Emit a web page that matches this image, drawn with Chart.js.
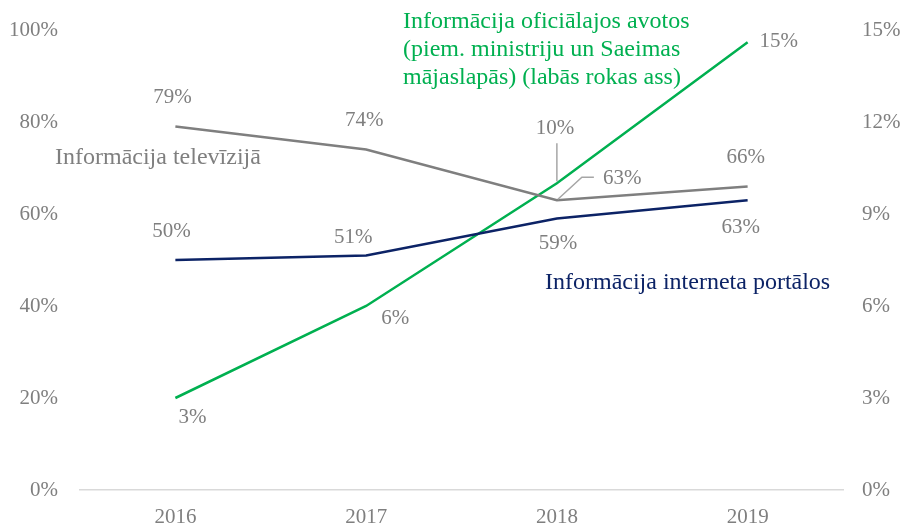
<!DOCTYPE html>
<html>
<head>
<meta charset="utf-8">
<script src="https://cdn.jsdelivr.net/npm/chart.js@4"></script>
<style>
  body { margin: 0; background: #fff; }
  #wrap { width: 900px; height: 524px; }
</style>
</head>
<body>
<div id="wrap"><canvas id="chart" width="900" height="524"></canvas></div>
<script>
const years = ["2016", "2017", "2018", "2019"];
const tvValues = [79, 74, 63, 66];
const internetValues = [50, 51, 59, 63];
const officialValues = [3, 6, 10, 14.6];
const leftTicks = [0, 20, 40, 60, 80, 100];
const rightTicks = [0, 3, 6, 9, 12, 15];

const FONT = "'Liberation Serif', 'Times New Roman', serif";
const GREY = "#7f7f7f";
const NAVY = "#0c2366";
const GREEN = "#00b050";

// offsets of value labels from their points (dx, dy)
const labelOffsets = {
  0: [[-3, -29], [-2, -29], null, [-2, -29]],
  1: [[-4, -29], [-13, -18], [1, 25], [-7, 27]],
  2: [[17, 19], [29, 12], [-2, -55], [31, -1]]
};

const valueLabels = {
  id: "valueLabels",
  afterDatasetsDraw(chart) {
    const ctx = chart.ctx;
    ctx.save();
    ctx.font = "21px " + FONT;
    ctx.textAlign = "center";
    ctx.textBaseline = "middle";
    ctx.fillStyle = GREY;
    chart.data.datasets.forEach((ds, di) => {
      const meta = chart.getDatasetMeta(di);
      meta.data.forEach((pt, i) => {
        const off = labelOffsets[di][i];
        if (!off) return;
        ctx.fillText(Math.round(ds.data[i]) + "%", pt.x + off[0], pt.y + off[1]);
      });
    });
    // 2018 TV label with leader line
    const tvPt = chart.getDatasetMeta(0).data[2];
    ctx.strokeStyle = "#a6a6a6";
    ctx.lineWidth = 1.5;
    ctx.beginPath();
    ctx.moveTo(tvPt.x + 1, tvPt.y - 1);
    ctx.lineTo(tvPt.x + 25, tvPt.y - 23);
    ctx.lineTo(tvPt.x + 37, tvPt.y - 23);
    ctx.stroke();
    ctx.textAlign = "left";
    ctx.fillText(Math.round(chart.data.datasets[0].data[2]) + "%", tvPt.x + 46, tvPt.y - 22);
    // 2018 official leader
    const ofPt = chart.getDatasetMeta(2).data[2];
    ctx.beginPath();
    ctx.moveTo(ofPt.x, ofPt.y - 40);
    ctx.lineTo(ofPt.x, ofPt.y - 2);
    ctx.stroke();

    // series names
    ctx.textAlign = "left";
    ctx.font = "24px " + FONT;
    ctx.fillStyle = GREY;
    ctx.fillText("Informācija televīzijā", 55, 158);
    ctx.fillStyle = NAVY;
    ctx.fillText("Informācija interneta portālos", 545, 283);
    ctx.fillStyle = GREEN;
    ctx.fillText("Informācija oficiālajos avotos", 403, 22);
    ctx.fillText("(piem. ministriju un Saeimas", 403, 50);
    ctx.fillText("mājaslapās) (labās rokas ass)", 403, 78);
    ctx.restore();
  }
};

const fitY = w => s => { s.width = w; s.paddingTop = 0; s.paddingBottom = 0; };

new Chart(document.getElementById("chart"), {
  type: "line",
  data: {
    labels: years,
    datasets: [
      { data: tvValues, borderColor: GREY, yAxisID: "y" },
      { data: internetValues, borderColor: NAVY, yAxisID: "y" },
      { data: officialValues, borderColor: GREEN, yAxisID: "y2" }
    ]
  },
  options: {
    responsive: false,
    animation: false,
    layout: { padding: { top: 30, left: 0, right: 0, bottom: 0 } },
    elements: {
      line: { borderWidth: 2.5, tension: 0 },
      point: { radius: 0 }
    },
    plugins: { legend: { display: false }, tooltip: { enabled: false } },
    scales: {
      x: {
        offset: true,
        grid: { display: false, drawTicks: false },
        border: { display: true, color: "#d9d9d9", width: 1.5 },
        ticks: { font: { family: FONT, size: 21 }, color: GREY, padding: 15 },
        afterFit: s => { s.height = 34; s.paddingLeft = 0; s.paddingRight = 0; }
      },
      y: {
        position: "left",
        min: 0, max: 100,
        grid: { display: false, drawTicks: false },
        border: { display: false },
        afterBuildTicks: s => { s.ticks = leftTicks.map(v => ({ value: v })); },
        ticks: { font: { family: FONT, size: 21 }, color: GREY, padding: 22, callback: v => v + "%" },
        afterFit: fitY(80)
      },
      y2: {
        position: "right",
        min: 0, max: 15,
        grid: { display: false, drawTicks: false },
        border: { display: false },
        afterBuildTicks: s => { s.ticks = rightTicks.map(v => ({ value: v })); },
        ticks: { font: { family: FONT, size: 21 }, color: GREY, padding: 19, callback: v => v + "%" },
        afterFit: fitY(57)
      }
    }
  },
  plugins: [valueLabels]
});
</script>
</body>
</html>
